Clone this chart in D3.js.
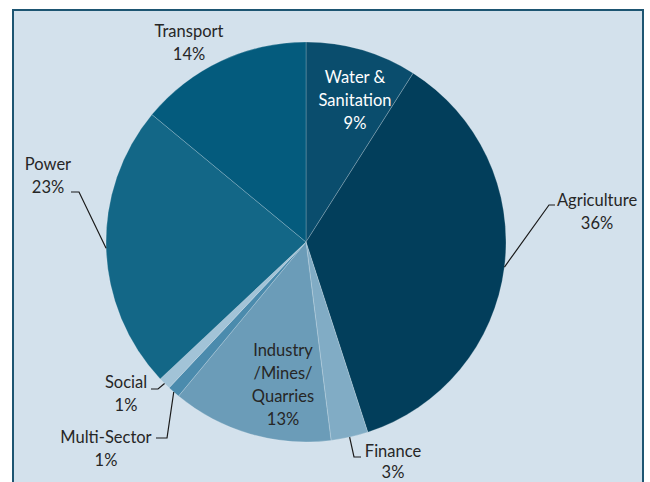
<!DOCTYPE html>
<html>
<head>
<meta charset="utf-8">
<script src="https://cdn.jsdelivr.net/npm/d3@7"></script>
<style>
  html, body { margin: 0; padding: 0; background: #ffffff; }
  svg { display: block; }
  text { font-family: Lato, "Open Sans", sans-serif; font-size: 16.5px; }
</style>
</head>
<body>
<svg id="chart" width="650" height="482"></svg>
<script>
// Share of lending by sector (%)
const sectors = ["Water & Sanitation", "Agriculture", "Finance", "Industry /Mines/ Quarries",
                 "Multi-Sector", "Social", "Power", "Transport"];
const shares = [9, 36, 3, 13, 1, 1, 23, 14];
const labelLines = [
  ["Water &", "Sanitation", "9%"],
  ["Agriculture", "36%"],
  ["Finance", "3%"],
  ["Industry", "/Mines/", "Quarries", "13%"],
  ["Multi-Sector", "1%"],
  ["Social", "1%"],
  ["Power", "23%"],
  ["Transport", "14%"]
];
const colors = ["#0a4d6d", "#023e5b", "#81acc5", "#6b9cb8", "#4b8bad", "#a2c3d7", "#136787", "#045b7d"];

// label layout: text centre, first baseline, optional leader elbow and end
const layout = [
  { x: 355, y: 83,  inside: true },
  { x: 597, y: 206, elbow: [549, 205], end: [555, 205] },
  { x: 393, y: 457, elbow: [354, 457], end: [361, 457], gap: 21 },
  { x: 283, y: 356, inside: true, dark: true },
  { x: 106, y: 443, elbow: [167, 438], end: [156, 438] },
  { x: 126, y: 388, elbow: [158, 389], end: [151, 389] },
  { x: 48,  y: 170, elbow: [79, 192],  end: [71, 192] },
  { x: 189, y: 37 }
];
const lineGap = 23;

const W = 650, H = 482;
const cx = 306, cy = 242, R = 200;

const svg = d3.select("#chart");

// panel background and frame
svg.append("rect")
  .attr("x", 13).attr("y", 10)
  .attr("width", 630).attr("height", H + 20)
  .attr("fill", "#d3e1ec")
  .attr("stroke", "#1d5572")
  .attr("stroke-width", 2);

const pie = d3.pie().sort(null).value(d => d);
const arcs = pie(shares);
const arc = d3.arc().innerRadius(0).outerRadius(R);

const g = svg.append("g").attr("transform", `translate(${cx},${cy})`);

g.selectAll("path.slice")
  .data(arcs)
  .join("path")
  .attr("class", "slice")
  .attr("d", arc)
  .attr("fill", (d, i) => colors[i])
  .attr("stroke", "rgba(255,255,255,0.35)")
  .attr("stroke-width", 0.6);

// leader lines from slice rim at mid-angle to the label
arcs.forEach((a, i) => {
  const L = layout[i];
  if (!L.elbow) return;
  const mid = (a.startAngle + a.endAngle) / 2;
  const sx = cx + R * Math.sin(mid), sy = cy - R * Math.cos(mid);
  svg.append("polyline")
    .attr("points", [[sx, sy], L.elbow, L.end].map(p => p.join(",")).join(" "))
    .attr("fill", "none")
    .attr("stroke", "#1a1a1a")
    .attr("stroke-width", 1.2);
});

// labels
labelLines.forEach((lines, i) => {
  const L = layout[i];
  const gap = L.gap || lineGap;
  const t = svg.append("text")
    .attr("text-anchor", "middle")
    .attr("fill", L.inside && !L.dark ? "#ffffff" : "#262626");
  lines.forEach((s, k) => {
    t.append("tspan").attr("x", L.x).attr("y", L.y + k * gap).text(s);
  });
});
</script>
</body>
</html>
